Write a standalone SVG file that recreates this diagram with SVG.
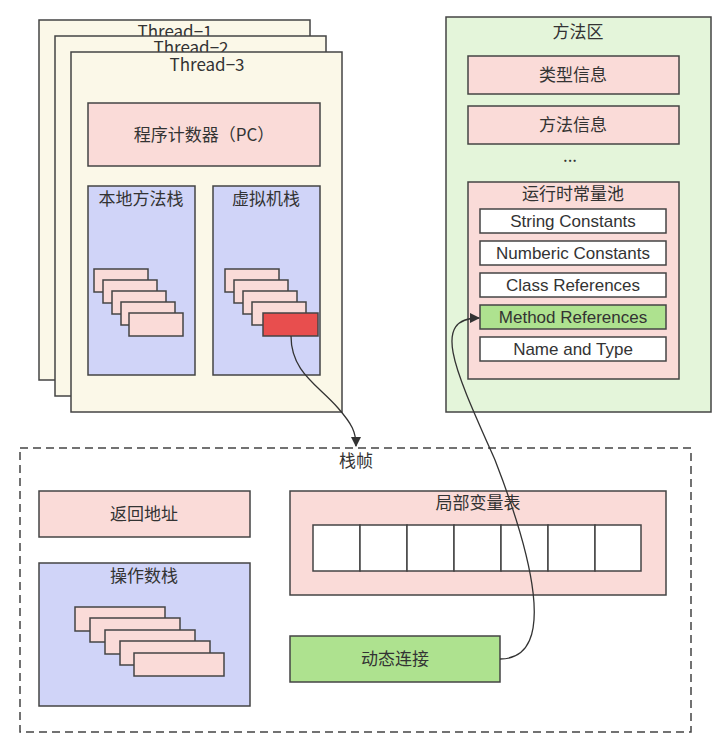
<svg xmlns="http://www.w3.org/2000/svg" width="720" height="752" viewBox="0 0 720 752">
<style>
text{font-family:"Noto Sans CJK SC","Liberation Sans",sans-serif;font-size:17px;fill:#333;text-anchor:middle}
.s{stroke:#444;stroke-width:1.5}
.th{fill:#fbf8e8}.pk{fill:#fadbd8}.bl{fill:#d0d4f8}.gr{fill:#e4f5da}.w{fill:#fff}.g{fill:#aee28f}.r{fill:#e84e4e}
.e text{font-family:"Liberation Sans",sans-serif}
</style>
<defs><marker id="a" viewBox="0 0 10 10" refX="9" refY="5" markerWidth="8" markerHeight="8" orient="auto"><path d="M0,0L10,5L0,10z" fill="#333"/></marker></defs>
<g id="thread1"><rect class="s th" x="39" y="20" width="271" height="360"/><text x="175" y="38">Thread−1</text></g>
<g id="thread2"><rect class="s th" x="55" y="36" width="271" height="360"/><text x="191" y="54">Thread−2</text></g>
<g id="thread3"><rect class="s th" x="71" y="52" width="271" height="360"/><text x="207" y="71">Thread−3</text></g>
<g id="pc"><rect class="s pk" x="88" y="103" width="232" height="63"/><text x="204" y="141">程序计数器（PC）</text></g>
<g id="native"><rect class="s bl" x="88" y="186" width="107" height="189"/><text x="141" y="205">本地方法栈</text>
<rect class="s pk" x="94" y="269" width="54" height="23"/><rect class="s pk" x="103" y="280" width="54" height="23"/><rect class="s pk" x="112" y="291" width="54" height="23"/><rect class="s pk" x="121" y="302" width="54" height="23"/><rect class="s pk" x="129" y="313" width="54" height="23"/></g>
<g id="vmstack"><rect class="s bl" x="213" y="186" width="107" height="189"/><text x="266" y="205">虚拟机栈</text>
<rect class="s pk" x="225" y="269" width="54" height="23"/><rect class="s pk" x="234" y="280" width="54" height="23"/><rect class="s pk" x="243" y="291" width="54" height="23"/><rect class="s pk" x="252" y="302" width="54" height="23"/><rect class="s r" x="263" y="313" width="55" height="23"/></g>
<g id="methodarea"><rect class="s gr" x="446" y="17" width="265" height="395"/><text x="578" y="38">方法区</text></g>
<g id="typeinfo"><rect class="s pk" x="468" y="56" width="211" height="38"/><text x="573" y="81">类型信息</text></g>
<g id="methodinfo"><rect class="s pk" x="468" y="106" width="211" height="38"/><text x="573" y="131">方法信息</text></g>
<g id="dots"><text x="570" y="162">...</text></g>
<g id="pool" class="e"><rect class="s pk" x="468" y="182" width="211" height="197"/><text x="573" y="200" style="font-family:'Noto Sans CJK SC',sans-serif">运行时常量池</text>
<rect class="s w" x="480" y="209" width="186" height="24"/><text x="573" y="227">String Constants</text>
<rect class="s w" x="480" y="241" width="186" height="24"/><text x="573" y="259">Numberic Constants</text>
<rect class="s w" x="480" y="273" width="186" height="24"/><text x="573" y="291">Class References</text>
<rect class="s g" x="480" y="305" width="186" height="24"/><text x="573" y="323">Method References</text>
<rect class="s w" x="480" y="337" width="186" height="24"/><text x="573" y="355">Name and Type</text></g>
<g id="frame"><rect x="20" y="448" width="671" height="284" fill="none" stroke="#444" stroke-width="1.5" stroke-dasharray="8 5"/><text x="356" y="467">栈帧</text></g>
<g id="ret"><rect class="s pk" x="39" y="491" width="211" height="46"/><text x="144" y="520">返回地址</text></g>
<g id="locals"><rect class="s pk" x="290" y="491" width="376" height="104"/><text x="478" y="509">局部变量表</text>
<rect class="s w" x="313" y="525" width="47" height="46"/><rect class="s w" x="360" y="525" width="47" height="46"/><rect class="s w" x="407" y="525" width="47" height="46"/><rect class="s w" x="454" y="525" width="47" height="46"/><rect class="s w" x="501" y="525" width="47" height="46"/><rect class="s w" x="548" y="525" width="47" height="46"/><rect class="s w" x="595" y="525" width="46" height="46"/></g>
<g id="opstack"><rect class="s bl" x="39" y="563" width="211" height="143"/><text x="144" y="582">操作数栈</text>
<rect class="s pk" x="75" y="607" width="90" height="24"/><rect class="s pk" x="90" y="618" width="90" height="24"/><rect class="s pk" x="105" y="630" width="90" height="24"/><rect class="s pk" x="120" y="641" width="90" height="24"/><rect class="s pk" x="134" y="653" width="90" height="23"/></g>
<g id="dyn"><rect class="s g" x="290" y="636" width="210" height="46"/><text x="395" y="665">动态连接</text></g>
<g id="connectors" fill="none" stroke="#333" stroke-width="1.3">
<path d="M291,336 C291,372 318,385 338,408 C352,424 356,432 356,446" marker-end="url(#a)"/>
<path d="M500,659 C560,659 530,550 495,460 C455,370 430,318 479,318" marker-end="url(#a)"/>
</g>
</svg>
